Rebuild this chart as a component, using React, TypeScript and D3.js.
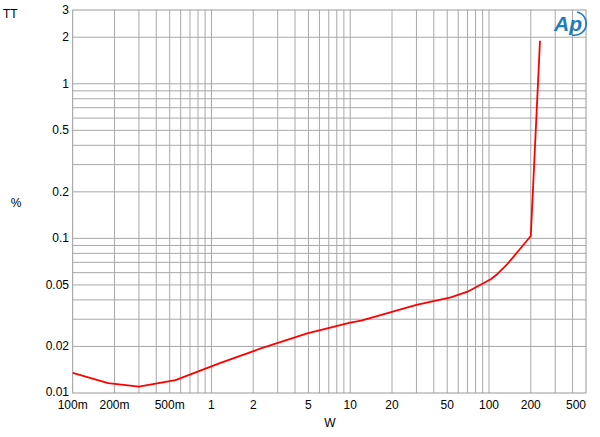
import React from "react";
import * as d3 from "d3";

const powerW = [0.1, 0.18, 0.3, 0.55, 1.15, 2.3, 4.9, 10, 12, 30, 53, 70, 103, 115, 135, 150, 170, 200, 233];
const thdPct = [0.0135, 0.0116, 0.011, 0.0121, 0.0156, 0.0195, 0.0243, 0.0285, 0.0294, 0.0371, 0.0416, 0.0452, 0.0544, 0.0589, 0.068, 0.076, 0.087, 0.1036, 1.9];

const xTicks = [0.1, 0.2, 0.5, 1, 2, 5, 10, 20, 50, 100, 200, 500];
const xTickLabels = ["100m", "200m", "500m", "1", "2", "5", "10", "20", "50", "100", "200", "500"];
const yTicks = [0.01, 0.02, 0.05, 0.1, 0.2, 0.5, 1, 2, 3];
const yTickLabels = ["0.01", "0.02", "0.05", "0.1", "0.2", "0.5", "1", "2", "3"];

const W = 600, H = 437;
const left = 72.7, right = 586, top = 10, bottom = 393;

function minorGrid(lo: number, hi: number): number[] {
  const out: number[] = [];
  for (let e = -3; e <= 3; e++) {
    for (let m = 1; m <= 9; m++) {
      const v = m * Math.pow(10, e);
      if (v > lo * 1.0001 && v < hi * 0.9999) out.push(v);
    }
  }
  return out;
}

export default function App() {
  const x = d3.scaleLog().domain([0.1, 500]).range([left, right]);
  const y = d3.scaleLog().domain([0.01, 3]).range([bottom, top]);
  const pts: [number, number][] = powerW.map((p, i) => [p, thdPct[i]]);
  const line = d3.line<[number, number]>().x(d => x(d[0])).y(d => y(d[1]));
  const font = "'Liberation Sans', Arial, sans-serif";
  const xg = minorGrid(0.1, 500);
  const yg = minorGrid(0.01, 3);
  return (
    <svg width={W} height={H} style={{ position: "absolute", left: 0, top: 0, background: "#fff" }} fontFamily={font}>
      <rect x={0} y={0} width={W} height={H} fill="#fff" />
      {xg.map((v, i) => (
        <line key={"xg" + i} x1={x(v)} x2={x(v)} y1={top} y2={bottom} stroke="#a8a8a8" strokeWidth={1} />
      ))}
      {yg.map((v, i) => (
        <line key={"yg" + i} x1={left} x2={right} y1={y(v)} y2={y(v)} stroke="#a8a8a8" strokeWidth={1} />
      ))}
      <rect x={left} y={top} width={right - left} height={bottom - top} fill="none" stroke="#999" strokeWidth={1} />
      <path d={line(pts) || ""} fill="none" stroke="#ff0000" strokeWidth={1.8} strokeLinejoin="round" />
      {xTicks.map((v, i) => (
        <text key={"xt" + i} x={i === xTicks.length - 1 ? x(v) - 10 : x(v)} y={409} fontSize={12} textAnchor="middle" fill="#000">
          {xTickLabels[i]}
        </text>
      ))}
      {yTicks.map((v, i) => (
        <text key={"yt" + i} x={69} y={y(v) + (i === 0 ? 3 : 4)} fontSize={12} textAnchor="end" fill="#000">
          {yTickLabels[i]}
        </text>
      ))}
      <text x={330} y={427} fontSize={12} textAnchor="middle" fill="#000">W</text>
      <text x={16} y={207} fontSize={12} textAnchor="middle" fill="#000">%</text>
      <text x={3} y={18} fontSize={12} fill="#000">TT</text>
      <g>
        <text x={568} y={31} fontSize={21} fontStyle="italic" fontWeight="bold" textAnchor="middle" fill="#1f7bc0" fontFamily={font}>Ap</text>
        <path d="M 577 12 A 11 11 0 0 1 572 35" fill="none" stroke="#1f7bc0" strokeWidth={1.6} />
      </g>
    </svg>
  );
}
